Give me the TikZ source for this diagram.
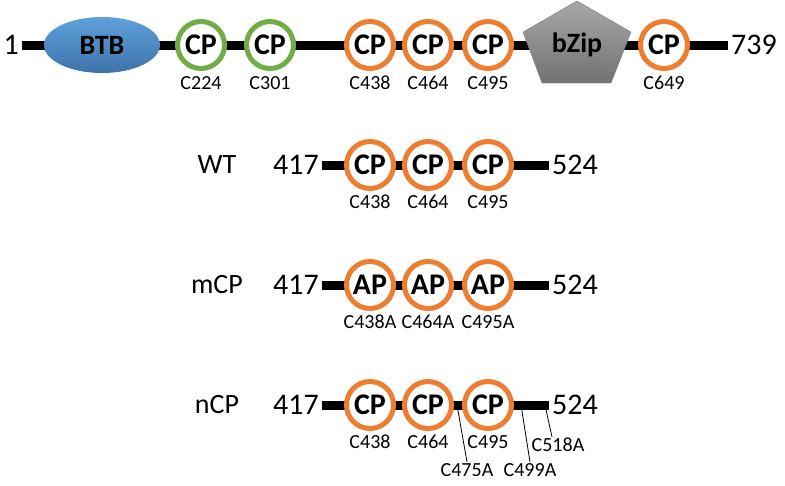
\documentclass[tikz,border=0pt]{standalone}
\usepackage{fontspec}
\setmainfont{Carlito}
\usetikzlibrary{shapes.geometric}
\definecolor{cysorange}{HTML}{ED7D31}
\definecolor{cysgreen}{HTML}{70AD47}
\definecolor{btbtop}{HTML}{5FA0DC}
\definecolor{btbbot}{HTML}{3E72AA}
\definecolor{ziptop}{HTML}{A8A8A8}
\definecolor{zipbot}{HTML}{727272}
\tikzset{
  chain/.style={line width=9pt},
  cys/.style={circle, draw=cysorange, line width=5pt, fill=white, minimum size=47pt,
    inner sep=0pt, font=\fontsize{30}{34}\selectfont\bfseries},
  site/.style={inner sep=1pt, font=\fontsize{20}{22}\selectfont},
  endnum/.style={inner sep=3pt, font=\fontsize{30}{34}\selectfont},
  rowname/.style={font=\fontsize{28}{32}\selectfont},
  domtext/.style={font=\fontsize{28}{32}\selectfont\bfseries},
  leader/.style={line width=0.8pt}
}
\begin{document}
\begin{tikzpicture}[x=1pt, y=-1pt]
  \useasboundingbox (0,0) rectangle (785,485);
  % full-length protein
  \node[endnum, anchor=east] (f1) at (22,45) {1};
  \node[endnum, anchor=west] (f739) at (728,45) {739};
  \draw[chain] (f1.east) -- (f739.west);
  \node[domtext, ellipse, top color=btbtop, bottom color=btbbot,
    minimum width=116pt, minimum height=56pt] (btb) at (102,45) {BTB};
  \draw[gray, top color=ziptop, bottom color=zipbot]
    (577,1) -- (631,32) -- (611,83) -- (542,83) -- (523,32) -- cycle;
  \node[domtext] (bzip) at (577,45) {bZip};
  \foreach \x/\s/\c in {201/C224/cysgreen, 270/C301/cysgreen, 370/C438/cysorange,
      428/C464/cysorange, 488/C495/cysorange, 664/C649/cysorange} {
    \node[cys, draw=\c] (f\s) at (\x,45) {CP};
    \node[site] (l\s) at (\x,83) {\s};
  }
  % fragments 417-524
  \foreach \y/\r/\a/\t in {165/WT//CP, 285/mCP/A/AP, 405/nCP//CP} {
    \node[rowname] (\r) at (217,\y) {\r};
    \node[endnum, anchor=east] (s\r) at (322,\y) {417};
    \node[endnum, anchor=west] (e\r) at (549,\y) {524};
    \draw[chain] (s\r.east) -- (e\r.west);
    \foreach \x/\s in {370/438, 428/464, 488/495} {
      \node[cys] (\r\s) at (\x,\y) {\t};
      \node[site] (\r\s l) at (\x,\y+37) {C\s\a};
    }
  }
  % extra sites in nCP
  \coordinate (m475) at (457,405);
  \coordinate (m499) at (521,405);
  \coordinate (m518) at (545,405);
  \node[site, anchor=north] (l475) at (467,462) {C475A};
  \node[site, anchor=north] (l499) at (530,462) {C499A};
  \node[site, anchor=north] (l518) at (558,437) {C518A};
  \draw[leader] (m475) -- (l475.north);
  \draw[leader] (m499) -- (l499.north);
  \draw[leader] (m518) -- ([xshift=-6pt]l518.north);
\end{tikzpicture}
\end{document}
